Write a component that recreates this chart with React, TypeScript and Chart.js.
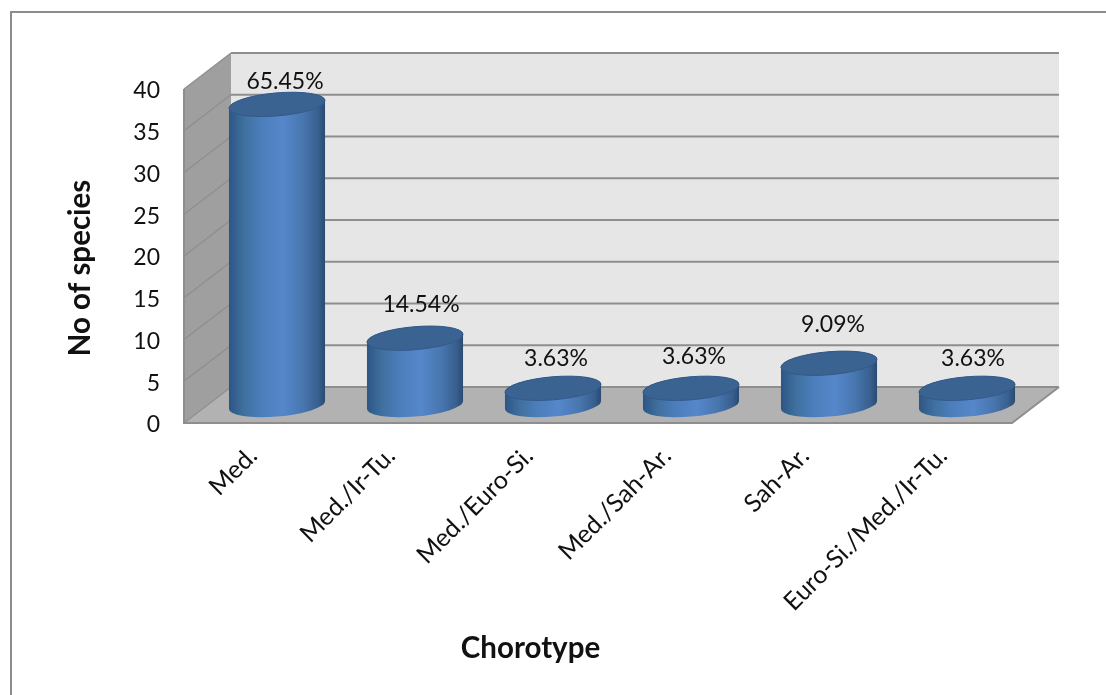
import React, { useEffect, useRef } from "react";
import { Chart, registerables } from "chart.js";

Chart.register(...registerables);

const categories = ["Med.", "Med./Ir-Tu.", "Med./Euro-Si.", "Med./Sah-Ar.", "Sah-Ar.", "Euro-Si./Med./Ir-Tu."];
const speciesCounts = [36, 8, 2, 2, 5, 2];
const shareLabels = ["65.45%", "14.54%", "3.63%", "3.63%", "9.09%", "3.63%"];
const yTickValues = [0, 5, 10, 15, 20, 25, 30, 35, 40];
const xAxisTitle = "Chorotype";
const yAxisTitle = "No of species";

// Hand-placed label offsets, as (dx, dy) from the top of each cylinder.
const labelOffsets = [[8, -23], [6, -34], [3, -30], [3, -32], [4, -39], [6, -30]];

const FONT = "Lato, Carlito, Calibri, sans-serif";
const DEPTH_X = 47;
const DEPTH_Y = 36;
const TILT = -0.085;
const RX = 48.2;
const RY = 11.5;
const SIDE_ANGLE = 0.02;

const depthFrame = {
  id: "depthFrame",
  beforeDatasetsDraw(chart: any) {
    const { ctx, chartArea: a, scales } = chart;
    const y = scales.y;
    const base = y.getPixelForValue(0);
    const top = y.getPixelForValue(40);
    ctx.save();

    // back wall
    ctx.fillStyle = "#e6e6e6";
    ctx.fillRect(a.left + DEPTH_X, top - DEPTH_Y, a.right - a.left, base - top);

    // left wall
    ctx.fillStyle = "#9f9f9f";
    ctx.beginPath();
    ctx.moveTo(a.left, top);
    ctx.lineTo(a.left + DEPTH_X, top - DEPTH_Y);
    ctx.lineTo(a.left + DEPTH_X, base - DEPTH_Y);
    ctx.lineTo(a.left, base);
    ctx.closePath();
    ctx.fill();

    // floor
    ctx.fillStyle = "#b2b2b2";
    ctx.beginPath();
    ctx.moveTo(a.left, base);
    ctx.lineTo(a.left + DEPTH_X, base - DEPTH_Y);
    ctx.lineTo(a.right + DEPTH_X, base - DEPTH_Y);
    ctx.lineTo(a.right, base);
    ctx.closePath();
    ctx.fill();

    // grid lines wrap from the left wall onto the back wall
    for (const v of yTickValues) {
      const py = y.getPixelForValue(v);
      ctx.strokeStyle = "#8e8e8e";
      ctx.lineWidth = 1.2;
      ctx.beginPath();
      ctx.moveTo(a.left, py);
      ctx.lineTo(a.left + DEPTH_X, py - DEPTH_Y);
      ctx.stroke();
      ctx.lineWidth = 2;
      ctx.beginPath();
      ctx.moveTo(a.left + DEPTH_X, py - DEPTH_Y);
      ctx.lineTo(a.right + DEPTH_X, py - DEPTH_Y);
      ctx.stroke();
    }

    // front edges of the floor and the wall
    ctx.strokeStyle = "#8e8e8e";
    ctx.lineWidth = 2;
    ctx.beginPath();
    ctx.moveTo(a.left, top);
    ctx.lineTo(a.left, base);
    ctx.lineTo(a.right, base);
    ctx.lineTo(a.right + DEPTH_X, base - DEPTH_Y);
    ctx.stroke();
    ctx.restore();
  },
};

const cylinders = {
  id: "cylinders",
  afterDatasetsDraw(chart: any) {
    const { ctx } = chart;
    const bars = chart.getDatasetMeta(0).data;
    const dx = DEPTH_X / 2 + 0.5;
    const dy = DEPTH_Y / 2;
    bars.forEach((bar: any, i: number) => {
      const cx = bar.x + dx;
      const topY = bar.y - dy;
      const baseY = bar.base - dy;
      const grad = ctx.createLinearGradient(cx - RX, 0, cx + RX, 0);
      grad.addColorStop(0, "#2c5584");
      grad.addColorStop(0.16, "#40709f");
      grad.addColorStop(0.32, "#4a7db9");
      grad.addColorStop(0.56, "#5587cb");
      grad.addColorStop(0.78, "#4775ad");
      grad.addColorStop(0.93, "#385f8e");
      grad.addColorStop(1, "#2b4a70");

      ctx.save();
      ctx.fillStyle = grad;
      ctx.beginPath();
      ctx.ellipse(cx, baseY, RX, RY, TILT, Math.PI + SIDE_ANGLE, SIDE_ANGLE, true);
      ctx.ellipse(cx, topY, RX, RY, TILT, SIDE_ANGLE, Math.PI + SIDE_ANGLE, true);
      ctx.closePath();
      ctx.fill();

      ctx.fillStyle = "#3a6392";
      ctx.strokeStyle = "#33598a";
      ctx.lineWidth = 1;
      ctx.beginPath();
      ctx.ellipse(cx, topY, RX, RY, TILT, 0, Math.PI * 2);
      ctx.fill();
      ctx.stroke();

      const [ox, oy] = labelOffsets[i];
      ctx.fillStyle = "#111111";
      ctx.font = `23px ${FONT}`;
      ctx.textAlign = "center";
      ctx.textBaseline = "middle";
      ctx.fillText(shareLabels[i], cx + ox, topY + oy);
      ctx.restore();
    });
  },
};

// Axis titles sit off-centre, so they are placed by hand.
const axisTitles = {
  id: "axisTitles",
  afterDraw(chart: any) {
    const { ctx } = chart;
    ctx.save();
    ctx.fillStyle = "#111111";
    ctx.font = `bold 29.5px ${FONT}`;
    ctx.textAlign = "center";
    ctx.textBaseline = "middle";
    ctx.fillText(xAxisTitle, 530.5, 648);
    ctx.translate(80, 268);
    ctx.rotate(-Math.PI / 2);
    ctx.fillText(yAxisTitle, 0, 0);
    ctx.restore();
  },
};

// Outer rule along the top and left of the picture.
const outerRule = {
  id: "outerRule",
  beforeDraw(chart: any) {
    const { ctx, width, height } = chart;
    ctx.save();
    ctx.fillStyle = "#ffffff";
    ctx.fillRect(0, 0, width, height);
    ctx.strokeStyle = "#8c8c8c";
    ctx.lineWidth = 2;
    ctx.beginPath();
    ctx.moveTo(11, height);
    ctx.lineTo(11, 12);
    ctx.lineTo(width, 12);
    ctx.stroke();
    ctx.restore();
  },
};

export default function App() {
  const ref = useRef<HTMLCanvasElement | null>(null);
  useEffect(() => {
    const chart = new Chart(ref.current as HTMLCanvasElement, {
      type: "bar",
      data: {
        labels: categories,
        datasets: [
          {
            data: speciesCounts,
            backgroundColor: "rgba(0,0,0,0)",
            borderWidth: 0,
            categoryPercentage: 1,
            barPercentage: 0.696,
          },
        ],
      },
      options: {
        responsive: false,
        animation: false,
        layout: { padding: { top: 89, left: 62, right: 94, bottom: 30 } },
        plugins: { legend: { display: false }, tooltip: { enabled: false }, title: { display: false } },
        scales: {
          x: {
            afterFit: (s: any) => {
              s.height = 242;
            },
            grid: { display: false },
            border: { display: false },
            ticks: {
              minRotation: 45,
              maxRotation: 45,
              padding: 10,
              autoSkip: false,
              color: "#111111",
              font: { family: FONT, size: 25 },
            },
          },
          y: {
            min: 0,
            max: 40,
            afterFit: (s: any) => {
              s.width = 122;
            },
            grid: { display: false, drawTicks: false },
            border: { display: false },
            ticks: {
              stepSize: 5,
              padding: 24,
              labelOffset: 2,
              color: "#111111",
              font: { family: FONT, size: 23 },
            },
          },
        },
      },
      plugins: [outerRule, depthFrame, cylinders, axisTitles],
    } as any);
    return () => chart.destroy();
  }, []);
  return (
    <div style={{ position: "absolute", left: 0, top: 0, width: 1106, height: 695 }}>
      <canvas ref={ref} width={1106} height={695} style={{ display: "block" }} />
    </div>
  );
}
